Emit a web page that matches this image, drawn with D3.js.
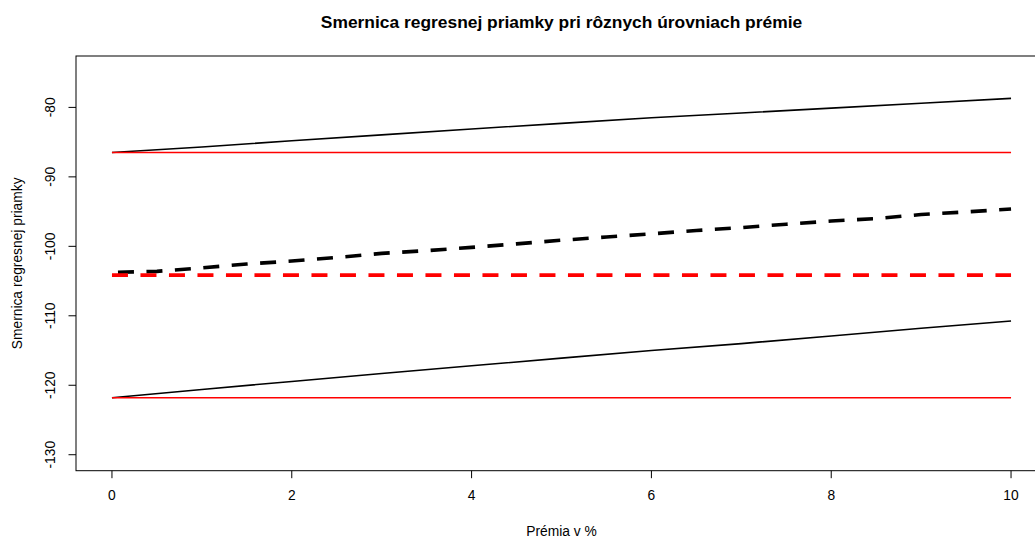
<!DOCTYPE html>
<html>
<head>
<meta charset="utf-8">
<script src="https://cdn.jsdelivr.net/npm/d3@7"></script>
<style>
  html, body { margin: 0; padding: 0; background: #fff; }
  svg { display: block; font-family: "Liberation Sans", Arial, sans-serif; }
</style>
</head>
<body>
<div id="chart"></div>
<script>
// Smernica regresnej priamky - R base plot look

const premia = [0, 1, 2, 3, 4, 5, 6, 7, 8, 9, 10];
const upperBound = [-86.5, -85.7, -84.8, -83.95, -83.1, -82.3, -81.5, -80.8, -80.1, -79.4, -78.7];
const lowerBound = [-121.8, -120.6, -119.45, -118.3, -117.2, -116.1, -115.0, -114.0, -112.9, -111.8, -110.75];

const premiaFine = [0, 0.5, 1, 1.5, 2, 2.5, 3, 3.5, 4, 4.5, 5, 5.5, 6, 6.5, 7, 7.5, 8, 8.5, 9, 9.5, 10];
const estimate = [-103.75, -103.6, -103.1, -102.55, -102.12, -101.6, -101.02, -100.62, -100.15, -99.64,
  -99.12, -98.66, -98.2, -97.72, -97.3, -96.82, -96.36, -96.0, -95.42, -95.05, -94.63];

const baseUpper = -86.5;
const baseEstimate = -104.15;
const baseLower = -121.8;

const xTicks = [0, 2, 4, 6, 8, 10];
const yTicks = [-130, -120, -110, -100, -90, -80];

const width = 1035, height = 538;
const plot = { left: 76, right: 1047, top: 56, bottom: 470.7 };

const svg = d3.select("#chart").append("svg")
  .attr("width", width)
  .attr("height", height);

const x = d3.scaleLinear().domain([-0.4, 10.4]).range([plot.left, plot.right]);
const y = d3.scaleLinear().domain([-132.3, -72.6]).range([plot.bottom, plot.top]);

const line = d3.line().x(d => x(d[0])).y(d => y(d[1]));
const zip = (xs, ys) => xs.map((v, i) => [v, ys[i]]);
const flat = v => [[0, v], [10, v]];

// black lines first, red on top
svg.append("path").datum(zip(premia, upperBound))
  .attr("d", line).attr("fill", "none").attr("stroke", "#000").attr("stroke-width", 1.6);
svg.append("path").datum(zip(premia, lowerBound))
  .attr("d", line).attr("fill", "none").attr("stroke", "#000").attr("stroke-width", 1.6);
svg.append("path").datum(zip(premiaFine, estimate))
  .attr("d", line).attr("fill", "none").attr("stroke", "#000").attr("stroke-width", 3.6)
  .attr("stroke-dasharray", "16 12.5").attr("stroke-dashoffset", -6);

svg.append("path").datum(flat(baseUpper))
  .attr("d", line).attr("fill", "none").attr("stroke", "#ff0000").attr("stroke-width", 1.6);
svg.append("path").datum(flat(baseLower))
  .attr("d", line).attr("fill", "none").attr("stroke", "#ff0000").attr("stroke-width", 1.6);
svg.append("path").datum(flat(baseEstimate))
  .attr("d", line).attr("fill", "none").attr("stroke", "#ff0000").attr("stroke-width", 3.8)
  .attr("stroke-dasharray", "16 12.5");

// box
svg.append("rect")
  .attr("x", plot.left).attr("y", plot.top)
  .attr("width", plot.right - plot.left).attr("height", plot.bottom - plot.top)
  .attr("fill", "none").attr("stroke", "#000").attr("stroke-width", 1);

// x axis
const gx = svg.append("g");
gx.selectAll("line").data(xTicks).enter().append("line")
  .attr("x1", d => x(d)).attr("x2", d => x(d))
  .attr("y1", plot.bottom).attr("y2", plot.bottom + 7.5)
  .attr("stroke", "#000");
gx.selectAll("text").data(xTicks).enter().append("text")
  .attr("x", d => x(d)).attr("y", 500)
  .attr("text-anchor", "middle").attr("font-size", 13.8)
  .text(d => d);

// y axis
const gy = svg.append("g");
gy.selectAll("line").data(yTicks).enter().append("line")
  .attr("x1", plot.left - 7.5).attr("x2", plot.left)
  .attr("y1", d => y(d)).attr("y2", d => y(d))
  .attr("stroke", "#000");
gy.selectAll("text").data(yTicks).enter().append("text")
  .attr("transform", d => `translate(55,${y(d)}) rotate(-90)`)
  .attr("text-anchor", "middle").attr("font-size", 13.8)
  .text(d => d);

// titles
svg.append("text")
  .attr("x", (plot.left + plot.right) / 2).attr("y", 28)
  .attr("text-anchor", "middle").attr("font-size", 17.4).attr("font-weight", "bold")
  .text("Smernica regresnej priamky pri rôznych úrovniach prémie");

svg.append("text")
  .attr("x", (plot.left + plot.right) / 2).attr("y", 536)
  .attr("text-anchor", "middle").attr("font-size", 13.8)
  .text("Prémia v %");

svg.append("text")
  .attr("transform", `translate(22,${(plot.top + plot.bottom) / 2}) rotate(-90)`)
  .attr("text-anchor", "middle").attr("font-size", 13.8)
  .text("Smernica regresnej priamky");
</script>
</body>
</html>
